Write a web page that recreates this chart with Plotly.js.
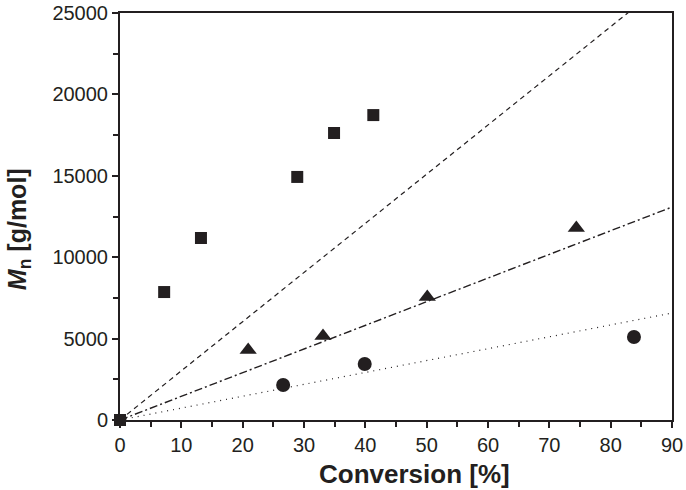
<!DOCTYPE html>
<html><head><meta charset="utf-8">
<script src="https://cdn.plot.ly/plotly-3.0.1.min.js"></script>
<style>html,body{margin:0;padding:0;background:#fff}#chart{width:686px;height:490px}</style>
</head><body><div id="chart"></div>
<script>
const squareX = [0, 7.2, 13.2, 28.9, 34.9, 41.3];
const squareY = [0, 7860, 11180, 14930, 17630, 18730];
const triangleX = [20.9, 33.1, 50.1, 74.4];
const triangleY = [4300, 5160, 7560, 11800];
const circleX = [26.6, 39.9, 83.8];
const circleY = [2150, 3440, 5100];
const fitX = [0, 90];
const dashedY = [0, 27180];
const dashDotY = [0, 13080];
const dottedY = [0, 6570];
const xTicks = [0, 10, 20, 30, 40, 50, 60, 70, 80, 90];
const yTicks = [0, 5000, 10000, 15000, 20000, 25000];
const xTitle = '<b>Conversion [%]</b>';
const yTitle = '<b><i>M</i><sub>n</sub> [g/mol]</b>';

const ink = '#231f20';
const font = 'Liberation Sans, Arial, sans-serif';
const traces = [
  {x: fitX, y: dashedY, mode: 'lines', line: {color: ink, width: 1.2, dash: '5px,4px'}},
  {x: fitX, y: dashDotY, mode: 'lines', line: {color: ink, width: 1.4, dash: '8px,3px,2px,3px'}},
  {x: fitX, y: dottedY, mode: 'lines', line: {color: ink, width: 1.2, dash: '1px,5px'}},
  {x: squareX, y: squareY, mode: 'markers', cliponaxis: false, marker: {symbol: 'square', size: 12, color: ink}},
  {x: triangleX, y: triangleY, mode: 'markers', cliponaxis: false, marker: {symbol: 'triangle-up', size: 15, color: ink}},
  {x: circleX, y: circleY, mode: 'markers', cliponaxis: false, marker: {symbol: 'circle', size: 14, color: ink}}
];
const axisCommon = {
  showline: true, linewidth: 2, linecolor: ink, mirror: true,
  ticks: 'outside', ticklen: 6, tickwidth: 2, tickcolor: ink,
  showgrid: false, zeroline: false,
  tickfont: {family: font, size: 20, color: ink}
};
const layout = {
  width: 686, height: 490,
  margin: {l: 120, r: 14, t: 13, b: 70},
  paper_bgcolor: '#fff', plot_bgcolor: '#fff',
  showlegend: false,
  xaxis: Object.assign({}, axisCommon, {
    range: [0, 90], tickvals: xTicks, ticktext: xTicks.map(String),
    minor: {dtick: 5, tick0: 0, ticks: 'outside', ticklen: 5, tickwidth: 2, tickcolor: ink, showgrid: false}
  }),
  yaxis: Object.assign({}, axisCommon, {
    range: [0, 25000], tickvals: yTicks, ticktext: yTicks.map(String),
    minor: {dtick: 2500, tick0: 0, ticks: 'outside', ticklen: 5, tickwidth: 2, tickcolor: ink, showgrid: false}
  }),
  annotations: [
    {text: xTitle, xref: 'paper', yref: 'paper', x: 0.533, y: -0.132, xanchor: 'center', yanchor: 'middle',
     showarrow: false, font: {family: font, size: 26, color: ink}},
    {text: yTitle, xref: 'paper', yref: 'paper', x: -0.184, y: 0.47, xanchor: 'center', yanchor: 'middle',
     textangle: -90, showarrow: false, borderpad: 0, font: {family: font, size: 25, color: ink}}
  ]
};
Plotly.newPlot('chart', traces, layout, {displayModeBar: false, staticPlot: true});
</script></body></html>
